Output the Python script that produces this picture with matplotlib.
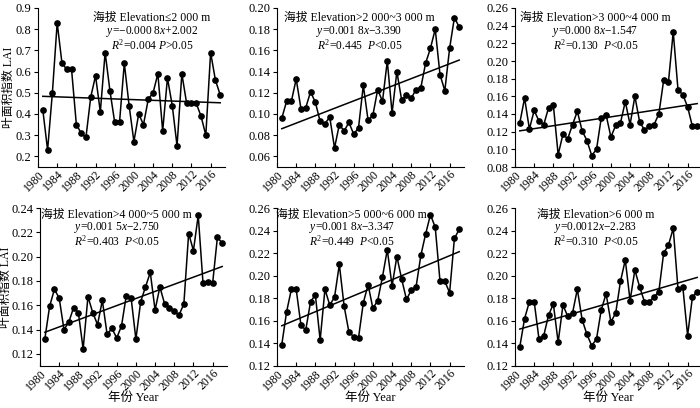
import numpy as np
import matplotlib
matplotlib.use("Agg")
import matplotlib.pyplot as plt

plt.rcParams['font.family'] = ['Liberation Serif', 'Noto Sans CJK SC', 'DejaVu Sans']
plt.rcParams['mathtext.fontset'] = 'custom'
plt.rcParams['mathtext.rm'] = 'Liberation Serif'
plt.rcParams['mathtext.it'] = 'Liberation Serif:italic'

years = np.arange(1981, 2019)

lai_le2000 = [0.42, 0.23, 0.50, 0.83, 0.64, 0.61, 0.61, 0.35, 0.31, 0.29,
              0.48, 0.58, 0.41, 0.69, 0.51, 0.36, 0.36, 0.64, 0.44, 0.27,
              0.40, 0.35, 0.47, 0.50, 0.59, 0.32, 0.57, 0.44, 0.25, 0.59,
              0.45, 0.45, 0.45, 0.39, 0.30, 0.69, 0.56, 0.49]
lai_2000_3000 = [0.096, 0.112, 0.112, 0.133, 0.105, 0.106, 0.121, 0.111, 0.093, 0.091,
                 0.097, 0.068, 0.090, 0.084, 0.092, 0.081, 0.087, 0.127, 0.094, 0.099,
                 0.123, 0.112, 0.150, 0.101, 0.140, 0.113, 0.118, 0.115, 0.123, 0.125,
                 0.148, 0.162, 0.180, 0.137, 0.122, 0.162, 0.191, 0.182]
lai_3000_4000 = [0.130, 0.158, 0.123, 0.144, 0.132, 0.128, 0.147, 0.150, 0.094, 0.117,
                 0.112, 0.128, 0.143, 0.121, 0.110, 0.093, 0.100, 0.136, 0.139, 0.114,
                 0.127, 0.130, 0.154, 0.128, 0.160, 0.131, 0.122, 0.126, 0.128, 0.140,
                 0.178, 0.176, 0.233, 0.167, 0.162, 0.148, 0.126, 0.126]
lai_4000_5000 = [0.132, 0.159, 0.173, 0.166, 0.140, 0.146, 0.158, 0.154, 0.124, 0.167,
                 0.154, 0.144, 0.164, 0.136, 0.141, 0.133, 0.143, 0.168, 0.166, 0.132,
                 0.163, 0.175, 0.187, 0.156, 0.175, 0.161, 0.158, 0.155, 0.152, 0.161,
                 0.219, 0.205, 0.234, 0.178, 0.179, 0.178, 0.216, 0.211]
lai_5000_6000 = [0.139, 0.168, 0.188, 0.188, 0.156, 0.152, 0.177, 0.183, 0.143, 0.188,
                 0.174, 0.181, 0.210, 0.173, 0.150, 0.146, 0.145, 0.176, 0.192, 0.171,
                 0.178, 0.199, 0.223, 0.191, 0.217, 0.197, 0.179, 0.187, 0.190, 0.218,
                 0.237, 0.254, 0.243, 0.195, 0.195, 0.185, 0.233, 0.241]
lai_gt6000 = [0.137, 0.162, 0.177, 0.177, 0.144, 0.147, 0.165, 0.175, 0.141, 0.174,
              0.164, 0.167, 0.188, 0.161, 0.148, 0.138, 0.144, 0.170, 0.184, 0.159,
              0.167, 0.195, 0.214, 0.178, 0.205, 0.190, 0.177, 0.177, 0.181, 0.186,
              0.220, 0.227, 0.242, 0.188, 0.190, 0.147, 0.181, 0.186]

series = [lai_le2000, lai_2000_3000, lai_3000_4000,
          lai_4000_5000, lai_5000_6000, lai_gt6000]
titles = ["海拔 Elevation≤2 000 m", "海拔 Elevation>2 000~3 000 m",
          "海拔 Elevation>3 000~4 000 m", "海拔 Elevation>4 000~5 000 m",
          "海拔 Elevation>5 000~6 000 m", "海拔 Elevation>6 000 m"]
equations = ["$y$=−0.000 8$x$+2.002", "$y$=0.001 8$x$−3.390",
             "$y$=0.000 8$x$−1.547", "$y$=0.001 5$x$−2.750",
             "$y$=0.001 8$x$−3.347", "$y$=0.0012$x$−2.283"]
stats = ["$R^2$=0.004 $P$>0.05", "$R^2$=0.445  $P$<0.05",
         "$R^2$=0.130  $P$<0.05", "$R^2$=0.403  $P$<0.05",
         "$R^2$=0.449  $P$<0.05", "$R^2$=0.310  $P$<0.05"]
ylims = [(0.15, 0.9), (0.05, 0.20), (0.08, 0.26),
         (0.11, 0.24), (0.12, 0.26), (0.12, 0.26)]
yticks = [np.arange(0.2, 0.91, 0.1), np.arange(0.06, 0.201, 0.02),
          np.arange(0.08, 0.261, 0.02), np.arange(0.12, 0.241, 0.02),
          np.arange(0.12, 0.261, 0.02), np.arange(0.12, 0.261, 0.02)]
yfmt = ["%.1f", "%.2f", "%.2f", "%.2f", "%.2f", "%.2f"]
text_x = [0.61, 0.44, 0.43, 0.41, 0.40, 0.43]
text_y = [(0.937, 0.851, 0.767), (0.956, 0.874, 0.79)]

W, H = 700, 408
fig = plt.figure(figsize=(7, 4.08), dpi=100)
lefts = [[38, 277, 515], [40, 277, 515]]
rows = [(8, 167), (208, 366)]
ylabel_x = [9, 6]
width = 187

for i in range(6):
    r, c = divmod(i, 3)
    top, bot = rows[r]
    ax = fig.add_axes([lefts[r][c] / W, 1 - bot / H, width / W, (bot - top) / H])
    y = np.array(series[i])
    ax.plot(years, y, 'k-o', lw=1.1, ms=3.8)
    k, b = np.polyfit(years, y, 1)
    ax.plot(years, k * years + b, 'k-', lw=1.1)
    ax.set_xlim(1980, 2019)
    ax.set_ylim(ylims[i])
    ax.set_xticks(np.arange(1980, 2017, 4))
    ax.set_xticklabels([str(v) for v in range(1980, 2017, 4)],
                       rotation=45, ha='right', va='top', rotation_mode='anchor')
    ax.set_yticks(yticks[i])
    ax.set_yticklabels([yfmt[i] % v for v in yticks[i]])
    ax.tick_params(axis='x', direction='in', length=3, width=0.8, labelsize=8.5, pad=1)
    ax.tick_params(axis='y', direction='out', length=3, width=0.8, labelsize=9, pad=2)
    ax.spines['top'].set_visible(False)
    ax.spines['right'].set_visible(False)
    for s in ['left', 'bottom']:
        ax.spines[s].set_linewidth(0.8)
    ty = text_y[r]
    ax.text(text_x[i], ty[0], titles[i], transform=ax.transAxes,
            ha='center', va='center', fontsize=8.5)
    ax.text(text_x[i], ty[1], equations[i], transform=ax.transAxes,
            ha='center', va='center', fontsize=8.3)
    ax.text(text_x[i], ty[2], stats[i], transform=ax.transAxes,
            ha='center', va='center', fontsize=8.3)
    if c == 0:
        fig.text(ylabel_x[r] / W, 1 - (top + bot) / 2 / H, "叶面积指数 LAI",
                 fontsize=8.5, rotation=90, ha='center', va='center')
    if r == 1:
        fig.text((lefts[r][c] + width / 2) / W, 1 - 398 / H, "年份 Year",
                 fontsize=9, ha='center', va='center')

fig.savefig("out.png", dpi=100)
